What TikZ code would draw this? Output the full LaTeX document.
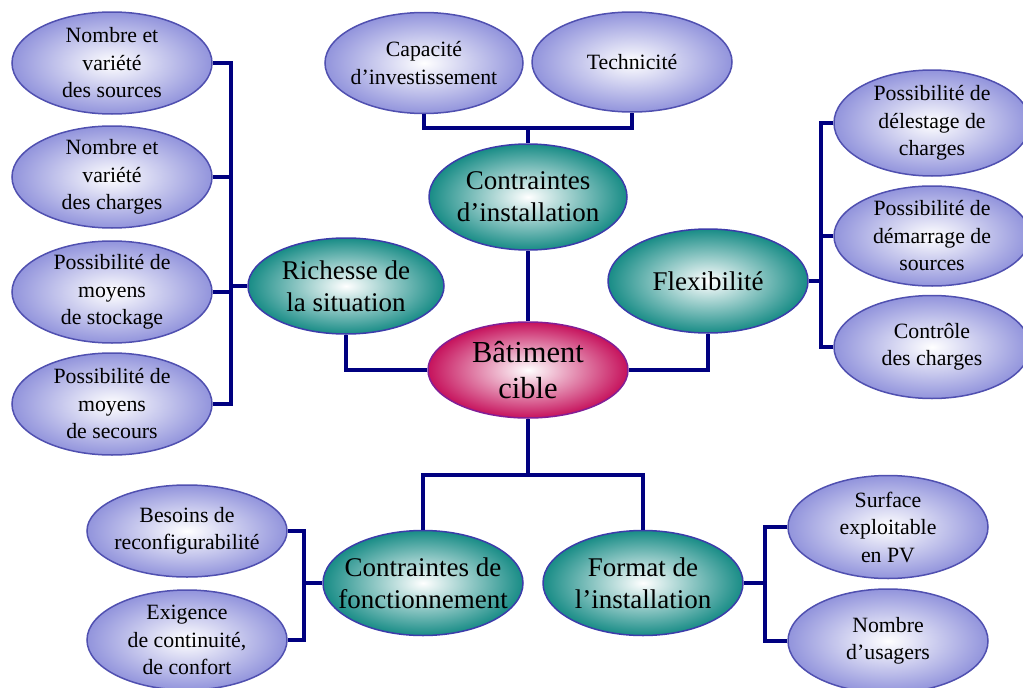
\documentclass[tikz,border=0pt]{standalone}
\usepackage{fontspec}
\setmainfont{Liberation Serif}
\usetikzlibrary{shapes.geometric}
\definecolor{navyline}{RGB}{0,0,128}
\definecolor{lav}{RGB}{146,148,220}
\definecolor{lavborder}{RGB}{80,80,176}
\definecolor{tealc}{RGB}{24,140,134}
\definecolor{tealborder}{RGB}{60,60,170}
\definecolor{crim}{RGB}{198,18,92}
\definecolor{crimborder}{RGB}{130,30,150}
\begin{document}
\begin{tikzpicture}[x=1pt,y=-1pt,
  base/.style={ellipse, inner sep=0pt, line width=1.5pt},
  leaf/.style={base, draw=lavborder, inner color=white, outer color=lav, minimum width=200pt, minimum height=102pt},
  mid/.style={base, draw=tealborder, inner color=white, outer color=tealc, minimum width=198pt, minimum height=104pt},
  hub/.style={base, draw=crimborder, inner color=white, outer color=crim, minimum width=200pt, minimum height=96pt},
  leaftxt/.style={align=center, inner sep=0pt, font=\fontsize{21.8}{27.5}\selectfont},
  midtxt/.style={align=center, inner sep=0pt, font=\fontsize{27}{32}\selectfont},
  hubtxt/.style={align=center, inner sep=0pt, font=\fontsize{30.5}{36}\selectfont},
  link/.style={draw=navyline, line width=4pt}
]
\useasboundingbox (0,0) rectangle (1023,688);
\clip (0,0) rectangle (1023,688);
\fill[white] (0,0) rectangle (1023,688);

% bus coordinates
\coordinate (lbus) at (231,0);
\coordinate (tbus) at (0,128);
\coordinate (rbus) at (821,0);
\coordinate (bbus) at (0,475);
\coordinate (blbus) at (304,0);
\coordinate (brbus) at (765,0);

% hub
\node[hub, label={[hubtxt]center:{Bâtiment\\cible}}] (hubn) at (528,370) {};

% mid nodes
\node[mid, minimum height=106pt, label={[midtxt]center:{Contraintes\\d’installation}}] (cinst) at (528,197) {};
\node[mid, minimum width=196pt, minimum height=96pt, label={[midtxt]center:{Richesse de\\la situation}}] (rich) at (346,286) {};
\node[mid, minimum width=200pt, label={[midtxt]center:{Flexibilité}}] (flex) at (708,281) {};
\node[mid, minimum width=200pt, minimum height=105pt, label={[midtxt]center:{Contraintes de\\fonctionnement}}] (fonc) at (423,583) {};
\node[mid, minimum width=200pt, minimum height=105pt, label={[midtxt]center:{Format de\\l’installation}}] (form) at (643,583) {};

% left leaves
\node[leaf, label={[leaftxt]center:{Nombre et\\variété\\des sources}}] (l1) at (112,63) {};
\node[leaf, label={[leaftxt]center:{Nombre et\\variété\\des charges}}] (l2) at (112,177) {};
\node[leaf, label={[leaftxt]center:{Possibilité de\\moyens\\de stockage}}] (l3) at (112,292) {};
\node[leaf, label={[leaftxt]center:{Possibilité de\\moyens\\de secours}}] (l4) at (112,404) {};

% top leaves
\node[leaf, minimum width=198pt, minimum height=101pt, label={[leaftxt]center:{Capacité\\d’investissement}}] (cap) at (424,63) {};
\node[leaf, minimum height=100pt, label={[leaftxt]center:{Technicité}}] (tech) at (632,62) {};

% right leaves
\node[leaf, minimum width=196pt, minimum height=106pt, label={[leaftxt]center:{Possibilité de\\délestage de\\charges}}] (r1) at (932,123) {};
\node[leaf, minimum width=196pt, minimum height=100pt, label={[leaftxt]center:{Possibilité de\\démarrage de\\sources}}] (r2) at (932,236) {};
\node[leaf, minimum width=196pt, minimum height=103pt, label={[leaftxt]center:{Contrôle\\des charges}}] (r3) at (932,347) {};

% bottom-left leaves
\node[leaf, minimum height=92pt, label={[leaftxt]center:{Besoins de\\reconfigurabilité}}] (bl1) at (187,531) {};
\node[leaf, minimum height=100pt, label={[leaftxt]center:{Exigence\\de continuité,\\de confort}}] (bl2) at (187,640) {};

% bottom-right leaves
\node[leaf, minimum height=103pt, label={[leaftxt]center:{Surface\\exploitable\\en PV}}] (br1) at (888,527) {};
\node[leaf, minimum height=104pt, label={[leaftxt]center:{Nombre\\d’usagers}}] (br2) at (888,641) {};

% connectors
\foreach \n in {l1,l2,l3,l4}
  \draw[link] (\n.east) -- (\n.east -| lbus) |- (rich.west);
\draw[link] (cap.south) -- (cap.south |- tbus) -| (cinst.north);
\draw[link] (tech.south) -- (tech.south |- tbus) -| (cinst.north);
\draw[link] (cinst.south) -- (hubn.north);
\draw[link] (rich.south) |- (hubn.west);
\draw[link] (flex.south) |- (hubn.east);
\foreach \n in {r1,r2,r3}
  \draw[link] (\n.west) -- (\n.west -| rbus) |- (flex.east);
\draw[link] (hubn.south) -- (hubn.south |- bbus) -| (fonc.north);
\draw[link] (hubn.south) -- (hubn.south |- bbus) -| (form.north);
\foreach \n in {bl1,bl2}
  \draw[link] (\n.east) -- (\n.east -| blbus) |- (fonc.west);
\foreach \n in {br1,br2}
  \draw[link] (\n.west) -- (\n.west -| brbus) |- (form.east);
\end{tikzpicture}
\end{document}
